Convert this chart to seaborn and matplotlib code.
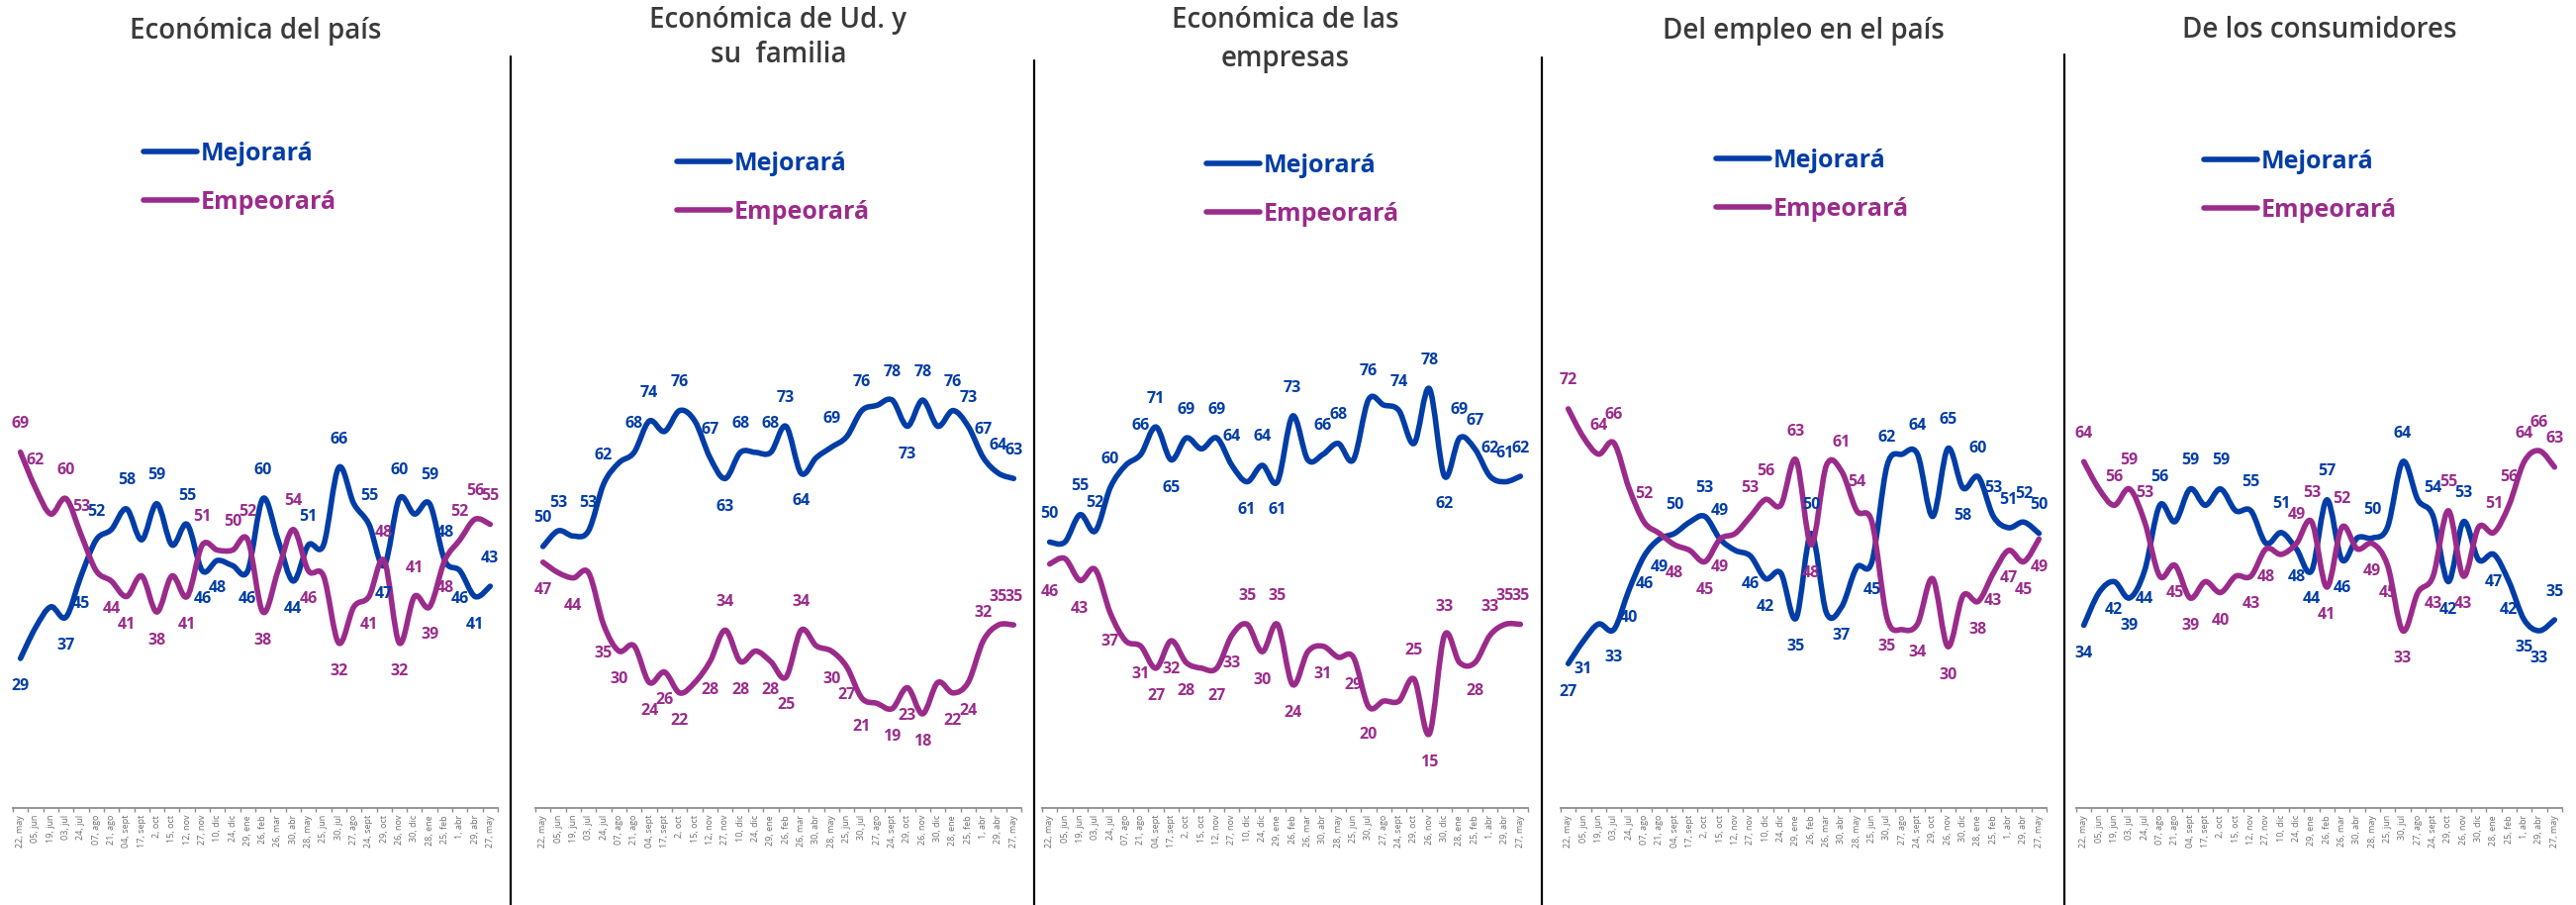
# Expectativas a futuro: Mejorará vs. Empeorará, cinco paneles
import numpy as np
import pandas as pd
import matplotlib
matplotlib.use("Agg")
import matplotlib.pyplot as plt
from matplotlib.path import Path
from matplotlib.patches import PathPatch
from matplotlib.lines import Line2D
import seaborn as sns

# --- Data ---
FECHAS = ["22, may", "05, jun", "19, jun", "03, jul", "24, jul", "07, ago", "21, ago",
          "04, sept", "17, sept", "2, oct", "15, oct", "12, nov", "27, nov", "10, dic",
          "24, dic", "29, ene", "26, feb", "26, mar", "30, abr", "28, may", "25, jun",
          "30, jul", "27, ago", "24, sept", "29, oct", "26, nov", "30, dic", "28, ene",
          "25, feb", "1, abr", "29, abr", "27, may"]
SERIES = ["Mejorará", "Empeorará"]
TITULOS = ["Económica del país", "Económica de Ud. y\nsu  familia",
           "Económica de las\nempresas", "Del empleo en el país", "De los consumidores"]

pais_mej = [29, 35, 39, 37, 45, 52, 54, 58, 52, 59, 51, 55, 46, 48, 47, 46, 60, 52, 44, 51,
            51, 66, 59, 55, 47, 60, 57, 59, 48, 46, 41, 43]
pais_emp = [69, 62, 57, 60, 53, 46, 44, 41, 45, 38, 45, 41, 51, 50, 50, 52, 38, 46, 54, 46,
            45, 32, 39, 41, 48, 32, 41, 39, 48, 52, 56, 55]
familia_mej = [50, 53, 52, 53, 62, 66, 68, 74, 72, 76, 74, 67, 63, 68, 68, 68, 73, 64, 67, 69,
               71, 76, 77, 78, 73, 78, 73, 76, 73, 67, 64, 63]
familia_emp = [47, 45, 44, 45, 35, 30, 31, 24, 26, 22, 24, 28, 34, 28, 30, 28, 25, 34, 31, 30,
               27, 21, 20, 19, 23, 18, 24, 22, 24, 32, 35, 35]
empresas_mej = [50, 50, 55, 52, 60, 64, 66, 71, 65, 69, 67, 69, 64, 61, 64, 61, 73, 65, 66, 68,
                65, 76, 75, 74, 68, 78, 62, 69, 67, 62, 61, 62]
empresas_emp = [46, 47, 43, 45, 37, 32, 31, 27, 32, 28, 27, 27, 33, 35, 30, 35, 24, 30, 31, 29,
                29, 20, 21, 21, 25, 15, 33, 28, 28, 33, 35, 35]
empleo_mej = [27, 31, 34, 33, 40, 46, 49, 50, 52, 53, 49, 47, 46, 42, 43, 35, 50, 36, 37, 44,
              45, 62, 64, 64, 53, 65, 58, 60, 53, 51, 52, 50]
empleo_emp = [72, 67, 64, 66, 58, 52, 50, 48, 47, 45, 49, 50, 53, 56, 55, 63, 48, 62, 61, 54,
              52, 35, 33, 34, 42, 30, 39, 38, 43, 47, 45, 49]
consum_mej = [34, 40, 42, 39, 44, 56, 53, 59, 56, 59, 55, 55, 49, 51, 48, 44, 57, 46, 50, 50,
              52, 64, 57, 54, 42, 53, 46, 47, 42, 35, 33, 35]
consum_emp = [64, 59, 56, 59, 53, 43, 45, 39, 42, 40, 43, 43, 48, 47, 49, 53, 41, 52, 48, 49,
              45, 33, 40, 43, 55, 43, 52, 51, 56, 64, 66, 63]

# label placement per point: a = above, b = below, - = no label
pais_mej_pos = "b--bba-a-a" "-abb-ba-ba" "-a-aba-aab" "ba"
pais_emp_pos = "aa-aa-bb-b" "-ba-aab-ab" "-b-bababba" "aa"
familia_mej_pos = "aa-aa-aa-a" "-aba-aab-a" "-a-aba-aaa" "aa"
familia_emp_pos = "b-b-bb-bbb" "-bab-bba-b" "bb-bbb-bba" "aa"
empresas_mej_pos = "a-aaa-aaba" "-aababa-aa" "-a-a-abaaa" "aa"
empresas_emp_pos = "b-b-b-bbbb" "-bbabab-b-" "bb--aba-ba" "aa"
empleo_mej_pos = "bb-bbbba-a" "a-bb-ba-b-" "ba-a-abaaa" "aa"
empleo_emp_pos = "a-aa-a-b-b" "b-aa-ab-aa" "-b-b-b-bbb" "bb"
consum_mej_pos = "b-bbba-a-a" "-a-abbab-a" "-a-aba-bbb" "ba"
consum_emp_pos = "a-aaa-bb-b" "-bb-aaba-b" "bb-bab-aaa" "aa"

PANELES = [
    (pais_mej, pais_emp, pais_mej_pos, pais_emp_pos),
    (familia_mej, familia_emp, familia_mej_pos, familia_emp_pos),
    (empresas_mej, empresas_emp, empresas_mej_pos, empresas_emp_pos),
    (empleo_mej, empleo_emp, empleo_mej_pos, empleo_emp_pos),
    (consum_mej, consum_emp, consum_mej_pos, consum_emp_pos),
]

# --- Layout (pixels) ---
W, H = 2603, 914
AX_X = [(13, 503), (541, 1032), (1053, 1544), (1577, 2068), (2098, 2589)]
Y_BOT, Y_TOP = 816, 290
YLIMS = [(0, 101), (0, 99.6), (1.5, 96.5), (1.5, 93.5), (0.5, 96)]
TITLE_Y = [31, 38, 40, 32, 30]
TITLE_SPACING = [1.3, 1.3, 1.45, 1.3, 1.3]
LEG_POS = [(145, 180), (684, 190), (1219, 192), (1734, 187), (2227, 188)]
SEPARADORES = [(516, 57), (1045, 61), (1558, 58), (2086, 55)]

AZUL = "#003DA6"
MORADO = "#9B2B8B"
LW = 4.0

sns.set_theme(style="white")
plt.rcParams["font.family"] = ["Open Sans", "DejaVu Sans"]


def smooth_path(xy):
    """Catmull-Rom style Bezier through the points (Excel 'smoothed line')."""
    pts = np.asarray(xy, float)
    n = len(pts)
    verts, codes = [pts[0]], [Path.MOVETO]
    for i in range(n - 1):
        p0 = pts[max(i - 1, 0)]
        p1, p2 = pts[i], pts[i + 1]
        p3 = pts[min(i + 2, n - 1)]
        verts += [p1 + (p2 - p0) / 6, p2 - (p3 - p1) / 6, p2]
        codes += [Path.CURVE4] * 3
    return Path(verts, codes)


fig = plt.figure(figsize=(W / 100, H / 100), dpi=100)
n = len(FECHAS)

for k, (mej, emp, pos_m, pos_e) in enumerate(PANELES):
    assert len(mej) == len(emp) == len(pos_m) == len(pos_e) == n
    x0, x1 = AX_X[k]
    ax = fig.add_axes([x0 / W, 1 - Y_BOT / H, (x1 - x0) / W, (Y_BOT - Y_TOP) / H])
    ax.patch.set_alpha(0)

    df = pd.DataFrame({
        "pos": list(range(n)) * 2,
        "serie": [SERIES[0]] * n + [SERIES[1]] * n,
        "valor": list(mej) + list(emp),
    })
    sns.lineplot(data=df, x="pos", y="valor", hue="serie", hue_order=SERIES,
                 palette=[AZUL, MORADO], legend=False, errorbar=None, lw=LW, ax=ax)
    # swap the straight segments for smoothed curves
    for line in list(ax.lines):
        ax.add_patch(PathPatch(smooth_path(line.get_xydata()), fill=False,
                               edgecolor=line.get_color(), lw=LW,
                               capstyle="round", joinstyle="round", clip_on=False))
        line.set_visible(False)

    for vals, marks, color in ((mej, pos_m, AZUL), (emp, pos_e, MORADO)):
        for i, (v, m) in enumerate(zip(vals, marks)):
            if m == "-":
                continue
            ax.annotate(str(v), (i, v), xytext=(0, 20.5 if m == "a" else -20.5),
                        textcoords="offset points", ha="center", va="center",
                        color=color, fontsize=11.5, fontweight="bold")

    ax.set_xlim(-0.5, n - 0.5)
    ax.set_ylim(*YLIMS[k])
    ax.set_xticks(range(n))
    ax.set_xticklabels(FECHAS, rotation=90, fontsize=6.5, color="#6b6b6b")
    ax.set_xticks(np.arange(-0.5, n), minor=True)
    ax.tick_params(axis="x", which="major", length=0, pad=5, bottom=False)
    ax.tick_params(axis="x", which="minor", length=3, width=1, color="#8c8c8c",
                   direction="out", bottom=True)
    ax.set_yticks([])
    ax.set_xlabel("")
    ax.set_ylabel("")
    for s in ("top", "right", "left"):
        ax.spines[s].set_visible(False)
    ax.spines["bottom"].set_color("#8c8c8c")
    ax.spines["bottom"].set_linewidth(1.3)

    fig.text((x0 + x1) / 2 / W, 1 - TITLE_Y[k] / H, TITULOS[k], ha="center", va="center",
             fontsize=20, fontweight="semibold", color="#3a3a3a",
             linespacing=TITLE_SPACING[k])

    lx, ly = LEG_POS[k]
    handles = [Line2D([], [], color=AZUL, lw=LW, solid_capstyle="round"),
               Line2D([], [], color=MORADO, lw=LW, solid_capstyle="round")]
    ax.legend(handles, SERIES, loc="center left", bbox_to_anchor=(lx / W, 1 - ly / H),
              bbox_transform=fig.transFigure, frameon=False,
              prop={"size": 18, "weight": "bold"}, labelcolor=[AZUL, MORADO],
              handlelength=2.15, handletextpad=0.16, labelspacing=0.95,
              borderpad=0, borderaxespad=0)

for sx, sy in SEPARADORES:
    fig.add_artist(Line2D([sx / W, sx / W], [0, 1 - sy / H], transform=fig.transFigure,
                          color="black", lw=1.6))

fig.savefig("out.png", dpi=100)
